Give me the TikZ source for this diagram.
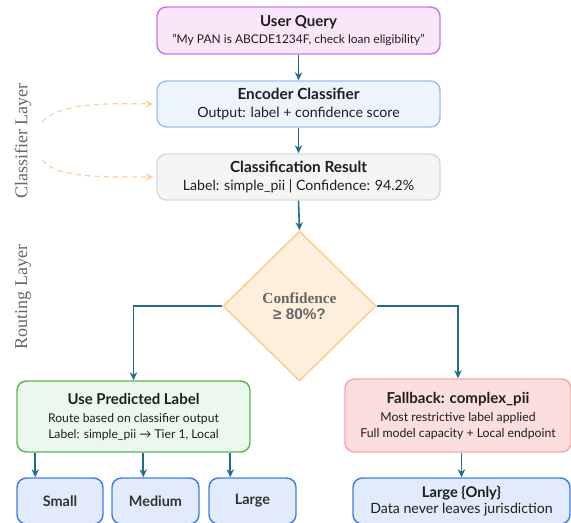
\documentclass[tikz,border=0pt]{standalone}
\usepackage{fontspec}
\setmainfont{Lato}
\newfontfamily\serifface{Liberation Serif}
\newfontfamily\arialface{Liberation Sans}
\usetikzlibrary{shapes.geometric,arrows.meta,calc}
\definecolor{arrc}{HTML}{226C8E}
\definecolor{qfill}{HTML}{F9E7F9}
\definecolor{qdraw}{HTML}{C27BEE}
\definecolor{efill}{HTML}{EEF4FD}
\definecolor{edraw}{HTML}{9EBFF4}
\definecolor{cfill}{HTML}{F5F5F4}
\definecolor{cdraw}{HTML}{DADADA}
\definecolor{dfill}{HTML}{FEF0DC}
\definecolor{ddraw}{HTML}{FDCD90}
\definecolor{gfill}{HTML}{EAF8EF}
\definecolor{gdraw}{HTML}{62B44E}
\definecolor{rfill}{HTML}{FDDEDE}
\definecolor{rdraw}{HTML}{F5A8A8}
\definecolor{bfill}{HTML}{E2EBFB}
\definecolor{bdraw}{HTML}{3F7FE6}
\definecolor{dashc}{HTML}{FDD2A6}
\definecolor{txt}{HTML}{1E1E1E}
\definecolor{subtxt}{HTML}{333333}
\definecolor{side}{HTML}{666666}
\tikzset{
  box/.style={rectangle, rounded corners=7pt, line width=1.1pt, align=center, inner sep=0pt, text=txt},
  arr/.style={draw=arrc, line width=1.2pt, -{Stealth[length=6pt,width=5.5pt]}},
  dasharr/.style={draw=dashc, line width=1pt, dash pattern=on 4pt off 3pt, -{Stealth[length=6pt,width=5.5pt]}},
}
\begin{document}
\begin{tikzpicture}[x=0.75pt,y=-0.75pt]
\useasboundingbox (0,0) rectangle (571,522);
\clip (0,0) rectangle (571,522);

\node[box, fill=qfill, draw=qdraw, minimum width=283*0.75pt, minimum height=47*0.75pt] (query) at (298.5,30.5)
  {{\bfseries\fontsize{11.3}{12}\selectfont User Query}\\[0.5pt]{\fontsize{9}{10}\selectfont "My PAN is ABCDE1234F, check loan eligibility"}};
\node[box, fill=efill, draw=edraw, minimum width=283*0.75pt, minimum height=46*0.75pt] (enc) at (298.5,104)
  {{\bfseries\fontsize{11.5}{12}\selectfont Encoder Classifier}\\[1pt]{\fontsize{10.6}{12}\selectfont Output: label + confidence score}};
\node[box, fill=cfill, draw=cdraw, minimum width=283*0.75pt, minimum height=46*0.75pt] (res) at (298.5,177)
  {{\bfseries\fontsize{11.5}{12}\selectfont Classification Result}\\[1pt]{\fontsize{10.6}{12}\selectfont Label: simple\_pii | Confidence: 94.2\%}};

\node[diamond, fill=dfill, draw=ddraw, line width=1.1pt, minimum width=153*0.75pt, minimum height=150*0.75pt, inner sep=0pt, align=center, text=side] (dec) at (299.5,306)
  {{\serifface\bfseries\fontsize{11.5}{14}\selectfont Confidence}\\{\arialface\bfseries\fontsize{11.5}{14}\selectfont ≥ 80\%?}};

\node[box, fill=gfill, draw=gdraw, minimum width=233*0.75pt, minimum height=71*0.75pt] (use) at (133.5,416.5)
  {{\bfseries\fontsize{11.2}{12}\selectfont Use Predicted Label}\\[1.5pt]{\fontsize{9.1}{11.5}\selectfont Route based on classifier output}\\{\fontsize{9.1}{11.5}\selectfont Label: simple\_pii → Tier 1, Local}};
\node[box, fill=rfill, draw=rdraw, minimum width=226*0.75pt, minimum height=73*0.75pt] (fall) at (458,415.5)
  {{\bfseries\fontsize{11.3}{12}\selectfont Fallback: complex\_pii}\\[1.5pt]{\fontsize{9.2}{11.5}\selectfont Most restrictive label applied}\\{\fontsize{9.2}{11.5}\selectfont Full model capacity + Local endpoint}};

\node[box, fill=bfill, draw=bdraw, minimum width=86*0.75pt, minimum height=46*0.75pt] (small) at (60,501)
  {\bfseries\fontsize{10.8}{12}\selectfont \textcolor{subtxt}{Small}};
\node[box, fill=bfill, draw=bdraw, minimum width=87*0.75pt, minimum height=46*0.75pt] (medium) at (155.5,501)
  {\bfseries\fontsize{10.8}{12}\selectfont \textcolor{subtxt}{Medium}};
\node[box, fill=bfill, draw=bdraw, minimum width=87*0.75pt, minimum height=46*0.75pt] (large) at (252.5,501)
  {\bfseries\fontsize{10.8}{12}\selectfont \textcolor{subtxt}{Large}};
\node[box, fill=bfill, draw=bdraw, minimum width=217*0.75pt, minimum height=46*0.75pt] (largeonly) at (461.5,501)
  {{\bfseries\fontsize{11}{12}\selectfont Large \{Only\}}\\[0pt]{\fontsize{10.6}{12}\selectfont Data never leaves jurisdiction}};

% side labels
\node[rotate=90, text=side, font=\serifface\fontsize{13.5}{15}\selectfont] (lc) at (23,141) {Classifier Layer};
\node[rotate=90, text=side, font=\serifface\fontsize{13.5}{15}\selectfont] (lr) at (23,297) {Routing Layer};

% main arrows
\draw[arr] (query.south) -- (enc.north);
\draw[arr] (enc.south) -- (res.north);
\draw[arr] (res.south) -- (dec.north);
\draw[arr] (dec.west) -| (use.north);
\draw[arr] (dec.east) -| (fall.north);

\coordinate (sa) at ($(small.north west)+(19,0)$);
\coordinate (sb) at ($(medium.north west)+(32,0)$);
\coordinate (sc) at ($(large.north west)+(22,0)$);
\draw[arr] (use.south -| sa) -- (sa);
\draw[arr] (use.south -| sb) -- (sb);
\draw[arr] (use.south -| sc) -- (sc);
\draw[arr] (fall.south -| largeonly.north) -- (largeonly.north);

% dashed arcs
\coordinate (d1) at (42,122);
\coordinate (d2) at (42,160);
\draw[dasharr, shorten >=2pt] (d1) .. controls (58,104) and (100,103) .. (enc.west);
\draw[dasharr, shorten >=2pt] (d2) .. controls (58,178) and (100,177) .. (res.west);
\end{tikzpicture}
\end{document}
